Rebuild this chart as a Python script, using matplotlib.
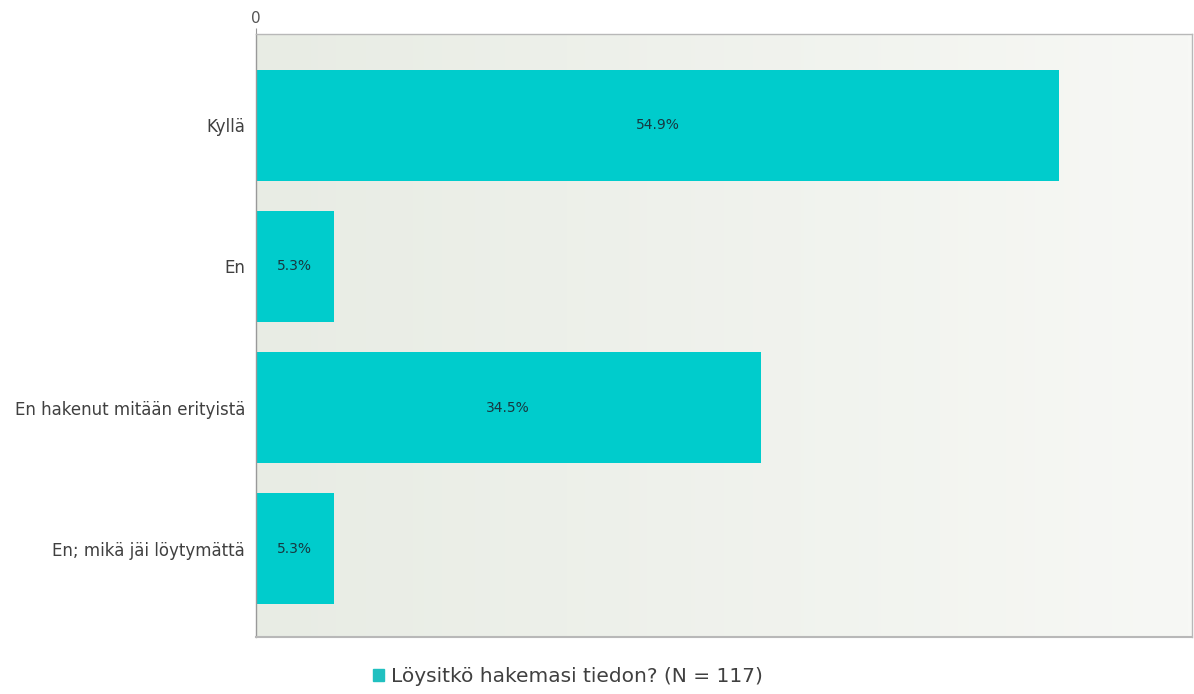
import numpy as np
import matplotlib.pyplot as plt

categories = ["Kyllä", "En", "En hakenut mitään erityistä", "En; mikä jäi löytymättä"]
values = [54.9, 5.3, 34.5, 5.3]
series_name = "Löysitkö hakemasi tiedon? (N = 117)"

bar_color = "#00cccc"
plt.rcParams['font.family'] = ['DejaVu Sans']

fig = plt.figure(figsize=(11.94, 6.94), dpi=100)
ax = fig.add_axes([256/1194, 1-637/694, (1192-256)/1194, (637-34)/694])

xmax = 64.0
ylim = (3.624, -0.645)

# taustan liukuväri vasemmalta oikealle
grad = np.linspace(0, 1, 256).reshape(1, -1)
left_c = np.array([232, 236, 228]) / 255
right_c = np.array([247, 248, 245]) / 255
img = left_c[None, None, :] * (1 - grad[..., None]) + right_c[None, None, :] * grad[..., None]
ax.imshow(img, extent=(0, xmax, ylim[0], ylim[1]), aspect='auto', zorder=0)

y = np.arange(len(categories))
bars = ax.barh(y, values, height=0.785, color=bar_color, zorder=2)
for yi, v in zip(y, values):
    ax.text(v/2, yi, f"{v:.1f}%", ha='center', va='center', fontsize=10,
            color='#173840', zorder=3)

ax.set_xlim(0, xmax)
ax.set_ylim(*ylim)
ax.set_yticks(y)
ax.set_yticklabels(categories, fontsize=12, color='#404040')
ax.tick_params(axis='y', length=0, pad=8)
ax.xaxis.tick_top()
ax.set_xticks([0])
ax.set_xticklabels(["0"], fontsize=11, color='#555555')
ax.tick_params(axis='x', length=4, color='#999999', pad=2)

for s in ax.spines.values():
    s.set_color('#b8b8b8')
    s.set_linewidth(1)
ax.spines['left'].set_color('#999999')
ax.spines['bottom'].set_linewidth(1.5)

# selite kuvan alareunaan
handle = plt.Rectangle((0, 0), 1, 1, color='#20c0c0')
fig.legend([handle], [series_name], loc='center', bbox_to_anchor=(568/1194, 1-677/694),
           frameon=False, fontsize=14.5, handlelength=0.55, handleheight=0.55,
           handletextpad=0.35, labelcolor='#404040')

fig.savefig("out.png", dpi=100)
